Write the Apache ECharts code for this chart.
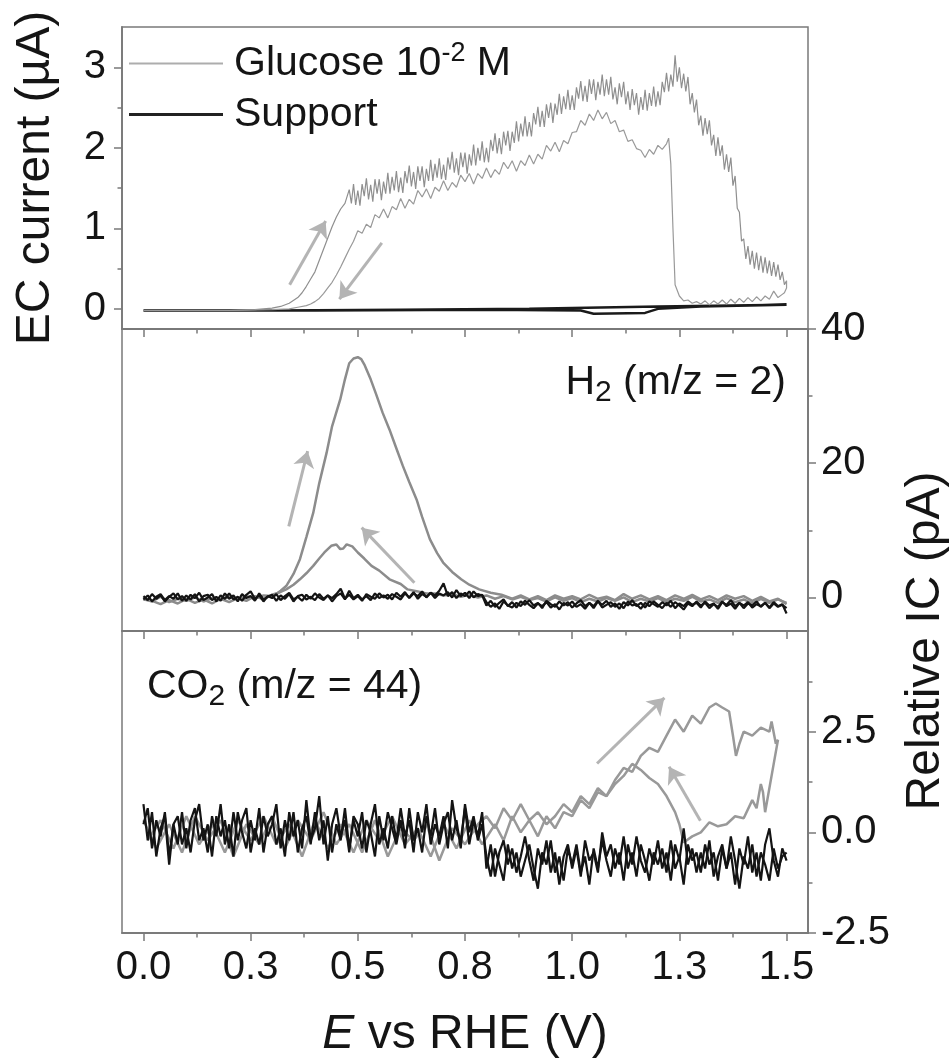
<!DOCTYPE html>
<html>
<head>
<meta charset="utf-8">
<script src="https://cdn.jsdelivr.net/npm/echarts/dist/echarts.min.js"></script>
<style>
html,body{margin:0;padding:0;background:#fff;}
#chart{width:952px;height:1063px;}
</style>
</head>
<body>
<div id="chart"></div>
<script>
// ---------------- DATA ----------------
const seriesNames = ['Glucose', 'Support'];
const xTickValues = [0, 0.25, 0.5, 0.75, 1.0, 1.25, 1.5];
const xTickLabels = ['0.0', '0.3', '0.5', '0.8', '1.0', '1.3', '1.5'];
const xMinorValues = [0.125, 0.375, 0.625, 0.875, 1.125, 1.375];
const ecTickValues = [0, 1, 2, 3];
const ecTickLabels = ['0', '1', '2', '3'];
const ecMinorValues = [0.5, 1.5, 2.5];
const h2TickValues = [0, 20, 40];
const h2TickLabels = ['0', '20', '40'];
const h2MinorValues = [10, 30];
const co2TickValues = [-2.5, 0, 2.5];
const co2TickLabels = ['-2.5', '0.0', '2.5'];
const co2MinorValues = [-1.25, 1.25, 3.75];

// sampled potentials (V) for the support traces
const E_fine = [0,0.01,0.02,0.03,0.04,0.05,0.06,0.07,0.08,0.09,0.1,0.11,0.12,0.13,0.14,0.15,0.16,0.17,0.18,0.19,0.2,0.21,0.22,0.23,0.24,0.25,0.26,0.27,0.28,0.29,0.3,0.31,0.32,0.33,0.34,0.35,0.36,0.37,0.38,0.39,0.4,0.41,0.42,0.43,0.44,0.45,0.46,0.47,0.48,0.49,0.5,0.51,0.52,0.53,0.54,0.55,0.56,0.57,0.58,0.59,0.6,0.61,0.62,0.63,0.64,0.65,0.66,0.67,0.68,0.69,0.7,0.71,0.72,0.73,0.74,0.75,0.76,0.77,0.78,0.79,0.8,0.81,0.82,0.83,0.84,0.85,0.86,0.87,0.88,0.89,0.9,0.91,0.92,0.93,0.94,0.95,0.96,0.97,0.98,0.99,1,1.01,1.02,1.03,1.04,1.05,1.06,1.07,1.08,1.09,1.1,1.11,1.12,1.13,1.14,1.15,1.16,1.17,1.18,1.19,1.2,1.21,1.22,1.23,1.24,1.25,1.26,1.27,1.28,1.29,1.3,1.31,1.32,1.33,1.34,1.35,1.36,1.37,1.38,1.39,1.4,1.41,1.42,1.43,1.44,1.45,1.46,1.47,1.48,1.49,1.5];

// EC current (µA) – glucose, anodic scan
const ecGlucoseFwd = [[0,-0.02],[0.1,-0.02],[0.2,-0.02],[0.26,-0.01],[0.3,0.01],[0.32,0.03],[0.34,0.07],[0.36,0.14],[0.37,0.2],[0.38,0.28],[0.39,0.37],[0.4,0.46],[0.41,0.6],[0.42,0.74],[0.43,0.88],[0.44,1.02],[0.45,1.14],[0.46,1.24],[0.47,1.31],
[0.48,1.48],[0.485,1.31],[0.49,1.55],[0.495,1.29],[0.5,1.47],[0.505,1.28],[0.51,1.55],[0.515,1.40],[0.52,1.62],[0.525,1.36],[0.53,1.54],[0.535,1.33],[0.54,1.61],[0.545,1.43],[0.55,1.61],[0.555,1.35],[0.56,1.58],[0.565,1.43],[0.57,1.69],[0.575,1.43],
[0.58,1.64],[0.585,1.47],[0.59,1.71],[0.595,1.45],[0.6,1.63],[0.605,1.44],[0.61,1.71],[0.615,1.56],[0.62,1.78],[0.625,1.52],[0.63,1.70],[0.635,1.49],[0.64,1.77],[0.645,1.59],[0.65,1.77],[0.655,1.51],[0.66,1.74],[0.665,1.59],[0.67,1.85],[0.675,1.59],
[0.68,1.80],[0.685,1.63],[0.69,1.87],[0.695,1.61],[0.7,1.79],[0.705,1.60],[0.71,1.88],[0.715,1.73],[0.72,1.95],[0.725,1.69],[0.73,1.87],[0.735,1.66],[0.74,1.94],[0.745,1.76],[0.75,1.94],[0.755,1.68],[0.76,1.92],[0.765,1.78],[0.77,2.04],[0.775,1.78],
[0.78,2.00],[0.785,1.84],[0.79,2.08],[0.795,1.82],[0.8,2.00],[0.805,1.82],[0.81,2.10],[0.815,1.96],[0.82,2.18],[0.825,1.93],[0.83,2.12],[0.835,1.92],[0.84,2.20],[0.845,2.03],[0.85,2.21],[0.855,1.96],[0.86,2.20],[0.865,2.06],[0.87,2.33],[0.875,2.08],
[0.88,2.30],[0.885,2.14],[0.89,2.39],[0.895,2.14],[0.9,2.32],[0.905,2.14],[0.91,2.43],[0.915,2.29],[0.92,2.51],[0.925,2.26],[0.93,2.46],[0.935,2.26],[0.94,2.54],[0.945,2.37],[0.95,2.56],[0.955,2.31],[0.96,2.55],[0.965,2.41],[0.97,2.67],[0.975,2.42],
[0.98,2.64],[0.985,2.48],[0.99,2.72],[0.995,2.47],[1.0,2.65],[1.005,2.47],[1.01,2.75],[1.015,2.61],[1.02,2.83],[1.025,2.58],[1.03,2.77],[1.035,2.57],[1.04,2.85],[1.045,2.67],[1.05,2.85],[1.055,2.59],[1.06,2.82],[1.065,2.66],[1.07,2.91],[1.075,2.64],
[1.08,2.85],[1.085,2.66],[1.09,2.88],[1.095,2.60],[1.1,2.75],[1.105,2.54],[1.11,2.80],[1.115,2.63],[1.12,2.82],[1.125,2.54],[1.13,2.70],[1.135,2.47],[1.14,2.73],[1.145,2.53],[1.15,2.68],[1.155,2.41],[1.16,2.63],[1.165,2.47],[1.17,2.72],[1.175,2.46],
[1.18,2.68],[1.185,2.52],[1.19,2.76],[1.195,2.51],[1.2,2.70],[1.205,2.53],[1.21,2.82],[1.215,2.69],[1.22,2.93],[1.225,2.70],[1.23,2.91],[1.235,2.76],[1.24,3.15],[1.245,2.82],[1.25,3.00],[1.255,2.74],[1.26,2.92],[1.265,2.70],[1.27,2.88],[1.275,2.54],
[1.28,2.68],[1.285,2.44],[1.29,2.60],[1.295,2.28],[1.3,2.40],[1.305,2.15],[1.31,2.37],[1.315,2.17],[1.32,2.34],[1.325,2.03],[1.33,2.16],[1.335,1.90],[1.34,2.13],[1.345,1.90],[1.35,2.03],[1.355,1.73],[1.36,1.92],[1.365,1.70],[1.37,1.88],[1.375,1.53],
[1.38,1.65],[1.385,1.25],[1.39,1.20],[1.395,0.84],[1.4,0.87],[1.405,0.62],[1.41,0.78],[1.415,0.55],[1.42,0.72],[1.425,0.50],[1.43,0.70],[1.435,0.48],[1.44,0.66],[1.445,0.45],[1.45,0.64],[1.455,0.44],[1.46,0.60],[1.465,0.41],[1.47,0.58],[1.475,0.40],
[1.48,0.55],[1.485,0.36],[1.49,0.46],[1.495,0.30],[1.5,0.35]];
// EC current (µA) – glucose, cathodic scan
const ecGlucoseBwd = [[1.5,0.35],[1.5,0.26],[1.495,0.2],[1.49,0.18],[1.48,0.14],[1.47,0.22],[1.46,0.12],[1.45,0.16],[1.44,0.10],[1.43,0.15],[1.42,0.09],[1.41,0.14],[1.4,0.08],[1.39,0.13],[1.38,0.07],[1.37,0.12],[1.36,0.06],[1.35,0.11],[1.34,0.06],[1.33,0.10],[1.32,0.05],[1.31,0.10],[1.3,0.06],[1.29,0.09],[1.28,0.07],[1.27,0.11],[1.26,0.10],[1.25,0.16],[1.24,0.30],[1.235,1.0],[1.23,1.8],[1.225,2.12],
[1.22,2.05],[1.21,1.98],[1.2,2.03],[1.19,1.92],[1.18,1.98],[1.17,1.88],[1.16,1.97],[1.15,1.99],[1.14,2.10],[1.13,2.08],[1.12,2.22],[1.11,2.20],[1.1,2.34],[1.09,2.30],[1.08,2.44],[1.07,2.36],[1.06,2.47],[1.05,2.34],[1.04,2.42],[1.03,2.28],[1.02,2.34],[1.01,2.20],
[1.0,2.19],[0.99,2.05],[0.98,2.09],[0.97,1.95],[0.96,2.07],[0.95,1.96],[0.94,2.03],[0.93,1.86],[0.92,1.92],[0.91,1.80],[0.9,1.91],[0.89,1.78],[0.88,1.84],[0.87,1.71],[0.86,1.84],[0.85,1.74],[0.84,1.82],[0.83,1.67],[0.82,1.73],[0.81,1.63],[0.8,1.75],[0.79,1.62],[0.78,1.68],[0.77,1.55],[0.76,1.68],[0.75,1.58],[0.74,1.66],[0.73,1.51],[0.72,1.57],[0.71,1.47],[0.7,1.59],[0.69,1.46],[0.68,1.51],[0.67,1.37],[0.66,1.49],[0.65,1.39],[0.64,1.47],[0.63,1.30],[0.62,1.36],[0.61,1.25],[0.6,1.37],[0.59,1.23],[0.58,1.27],[0.57,1.13],[0.56,1.24],[0.55,1.13],[0.54,1.17],[0.53,1.01],[0.52,1.05],[0.51,0.94],[0.5,0.97],
[0.49,0.84],[0.48,0.74],[0.47,0.63],[0.46,0.52],[0.45,0.42],[0.44,0.33],[0.43,0.26],[0.42,0.19],[0.41,0.13],[0.4,0.09],[0.39,0.06],[0.38,0.04],[0.36,0.02],[0.34,0.0],[0.3,-0.01],[0.2,-0.02],[0.1,-0.02],[0,-0.02]];
// EC current (µA) – support electrolyte
const ecSupport = [[0,-0.02],[0.3,-0.02],[0.6,-0.01],[0.9,0.0],[1.2,0.03],[1.5,0.05],[1.5,0.04],[1.3,0.03],[1.2,0.0],[1.17,-0.05],[1.05,-0.06],[1.02,-0.02],[0.8,-0.01],[0.4,-0.02],[0,-0.02]];

// H2 ion current (pA) – glucose
const h2GlucoseFwd = [[0,-0.2],[0.02,-0.6],[0.04,0.1],[0.06,-0.7],[0.08,-0.2],[0.1,-0.5],[0.12,0.0],[0.14,-0.6],[0.16,-0.1],[0.18,-0.4],[0.2,0.1],[0.22,-0.3],[0.24,0.2],[0.26,-0.2],[0.28,0.3],[0.3,0.2],[0.31,0.5],[0.32,1.0],[0.333,1.7],[0.35,3.5],[0.365,5.7],[0.38,9.0],[0.396,12.6],[0.41,17.0],[0.427,21.5],[0.44,25.5],[0.459,29.5],[0.47,32.5],[0.48,34.9],[0.49,35.6],[0.5,35.8],[0.508,35.5],[0.516,34.6],[0.53,32.5],[0.542,30.4],[0.558,27.5],[0.574,25.0],[0.59,22.2],[0.605,19.6],[0.62,17.2],[0.637,14.6],[0.65,12.0],[0.668,8.7],[0.685,6.6],[0.699,5.2],[0.72,3.8],[0.741,2.7],[0.76,1.9],[0.783,1.2],[0.81,0.7],[0.835,0.4],[0.86,-0.2],[0.88,0.3],[0.9,-0.3],[0.92,0.2],[0.94,-0.4],[0.96,0.3],[0.98,-0.2],[1.0,0.2],[1.02,-0.3],[1.04,0.4],[1.06,-0.2],[1.08,0.1],[1.1,-0.4],[1.12,0.5],[1.14,-0.2],[1.16,0.3],[1.18,-0.3],[1.2,0.2],[1.22,-0.4],[1.24,0.3],[1.26,-0.2],[1.28,0.4],[1.3,-0.3],[1.32,0.2],[1.34,-0.4],[1.36,0.3],[1.38,-0.2],[1.4,0.2],[1.42,-0.5],[1.44,0.1],[1.46,-0.6],[1.48,-0.2],[1.5,-1.0]];
const h2GlucoseBwd = [[1.5,-0.8],[1.48,-0.3],[1.46,-0.8],[1.44,-0.2],[1.42,-0.9],[1.4,-0.3],[1.38,-0.7],[1.36,-0.1],[1.34,-0.8],[1.32,-0.3],[1.3,-0.6],[1.28,0.1],[1.26,-0.5],[1.24,-0.2],[1.22,-0.7],[1.2,-0.1],[1.18,-0.6],[1.16,-0.2],[1.14,-0.7],[1.12,0.0],[1.1,-0.5],[1.08,-0.1],[1.06,-0.6],[1.04,-0.2],[1.02,-0.7],[1.0,-0.1],[0.98,-0.5],[0.96,0.0],[0.94,-0.6],[0.92,-0.1],[0.9,-0.4],[0.88,0.1],[0.86,-0.3],[0.84,0.2],[0.82,-0.2],[0.8,0.3],[0.78,0.0],[0.76,0.4],[0.74,0.1],[0.72,0.5],[0.7,0.3],[0.68,0.6],[0.66,0.6],[0.64,0.9],[0.616,1.2],[0.6,2.0],[0.574,2.7],[0.55,4.0],[0.532,4.7],[0.515,5.8],[0.5,6.7],[0.487,7.6],[0.474,7.9],[0.466,7.3],[0.459,7.2],[0.45,7.9],[0.438,7.7],[0.43,7.2],[0.422,6.7],[0.41,5.8],[0.396,4.7],[0.38,3.6],[0.365,2.7],[0.35,1.9],[0.333,1.2],[0.315,0.7],[0.3,0.4],[0.28,-0.3],[0.26,0.2],[0.24,-0.5],[0.22,-0.1],[0.2,-0.7],[0.18,-0.2],[0.16,-0.9],[0.14,-0.3],[0.12,-0.8],[0.1,-0.2],[0.08,-0.9],[0.06,-0.4],[0.04,-1.0],[0.02,-0.5],[0,-0.3]];
// H2 ion current (pA) – support, values at E_fine
const h2SupportFwd = [0.2,-0.4,0.5,-0.2,0.3,-0.6,0.1,0.6,-0.3,0.2,-0.5,0.4,-0.1,0.7,-0.4,0.0,0.5,-0.6,0.3,-0.2,0.6,-0.3,0.1,-0.5,0.4,0.9,-0.2,0.3,-0.6,0.2,-0.1,0.5,-0.4,0.2,0.7,-0.3,0.1,-0.5,0.4,-0.2,0.6,0.0,-0.4,0.3,-0.1,0.5,1.3,-0.2,0.4,-0.3,0.2,-0.5,0.5,0.1,-0.2,0.6,0.0,0.4,-0.3,0.7,0.1,0.8,-0.1,0.6,0.2,0.9,0.0,0.7,0.3,1.0,2.1,0.2,0.8,-0.1,0.6,0.2,0.9,0.0,0.5,0.3,-1.2,-0.5,-1.4,-0.8,-0.3,-1.3,-0.7,-1.5,-0.6,-1.1,-0.4,-1.2,-0.8,-1.6,-0.5,-1.0,-1.4,-0.6,-1.2,-0.7,-1.5,-0.9,-0.4,-1.3,-0.8,-1.6,-0.6,-1.1,-0.5,-1.4,-0.9,-1.7,-0.7,-1.2,-0.4,-1.3,-0.8,-1.5,-0.6,-1.0,-1.4,-0.7,-1.2,-0.5,-1.6,-0.9,-1.3,-0.6,-1.1,-0.8,-1.5,-0.6,-1.2,-0.9,-1.7,-0.7,-1.1,-0.4,-1.3,-0.8,-1.6,-0.9,-1.2,-0.6,-1.4,-0.8,-1.5,-0.7,-1.3,-1.0,-2.4];
const h2SupportBwd = [-0.3,0.3,-0.6,0.1,0.5,-0.4,0.2,-0.2,0.6,-0.5,0.3,-0.3,0.5,-0.6,0.2,0.4,-0.4,0.1,-0.5,0.6,-0.2,0.3,-0.6,0.5,-0.1,0.2,-0.5,0.6,-0.3,0.1,0.4,-0.5,0.3,-0.2,0.5,-0.6,0.2,0.4,-0.3,0.1,-0.4,0.5,-0.2,0.3,-0.6,0.2,0.6,-0.3,1.0,-0.1,0.4,-0.3,0.2,-0.4,0.6,-0.1,0.3,-0.2,0.5,0.1,-0.3,0.6,0.0,0.8,-0.2,0.5,0.1,0.7,-0.1,0.6,0.3,0.8,0.0,1.1,0.2,0.7,-0.1,0.9,0.2,0.4,-0.7,-1.4,-0.9,-1.7,-0.6,-1.2,-1.5,-0.8,-1.3,-0.5,-1.1,-1.6,-0.9,-1.3,-0.7,-1.5,-1.0,-1.8,-0.8,-1.2,-0.6,-1.4,-1.0,-1.7,-0.8,-1.3,-0.5,-1.5,-1.1,-0.7,-1.4,-0.9,-1.6,-0.6,-1.2,-1.0,-1.7,-0.8,-1.3,-0.6,-1.1,-1.6,-0.8,-1.4,-0.7,-1.2,-1.8,-0.9,-1.3,-0.6,-1.2,-0.8,-1.6,-1.0,-1.4,-0.6,-1.3,-0.9,-1.7,-0.8,-1.2,-0.7,-1.5,-1.0,-1.3,-0.8,-1.6,-0.9,-1.4,-1.1,-1.6];

// CO2 ion current (pA) – glucose
const co2GlucoseFwd = [[0,0.3],[0.03,-0.4],[0.06,0.2],[0.09,-0.5],[0.12,0.4],[0.15,-0.2],[0.18,0.3],[0.21,-0.6],[0.24,0.2],[0.27,-0.3],[0.3,0.4],[0.33,-0.4],[0.36,0.3],[0.39,-0.2],[0.42,0.5],[0.45,-0.3],[0.48,0.2],[0.51,-0.5],[0.54,0.3],[0.57,-0.6],[0.6,0.1],[0.63,-0.2],[0.66,0.2],[0.69,-0.7],[0.72,0.1],[0.75,-0.3],[0.78,0.2],[0.8,0.4],[0.82,0.1],[0.84,0.6],[0.86,0.3],[0.88,0.7],[0.9,0.3],[0.92,0.5],[0.94,0.2],[0.96,0.4],[0.98,0.7],[1.0,0.5],[1.02,0.9],[1.04,0.7],[1.06,1.1],[1.08,0.9],[1.1,1.3],[1.12,1.6],[1.14,1.5],[1.16,1.9],[1.18,2.1],[1.2,2.0],[1.22,2.4],[1.24,2.8],[1.26,2.5],[1.28,2.9],[1.3,2.7],[1.32,3.1],[1.335,3.2],[1.35,3.1],[1.366,3.0],[1.375,2.4],[1.382,1.9],[1.39,2.2],[1.4,2.5],[1.42,2.4],[1.44,2.6],[1.46,2.5],[1.465,2.75],[1.475,2.2],[1.48,2.3]];
const co2GlucoseBwd = [[1.48,2.3],[1.47,1.7],[1.46,1.1],[1.45,0.5],[1.445,1.0],[1.44,1.2],[1.43,0.6],[1.42,0.8],[1.4,0.35],[1.38,0.4],[1.36,0.2],[1.34,0.15],[1.32,0.25],[1.3,0.0],[1.28,-0.1],[1.26,-0.25],[1.25,0.2],[1.24,0.5],[1.22,0.9],[1.2,1.2],[1.18,1.35],[1.16,1.55],[1.14,1.7],[1.12,1.4],[1.1,1.2],[1.08,0.9],[1.06,1.0],[1.04,0.6],[1.02,0.8],[1.0,0.4],[0.98,0.5],[0.96,0.1],[0.94,0.4],[0.92,-0.1],[0.9,0.3],[0.88,0.0],[0.86,0.4],[0.84,-0.2],[0.82,0.2],[0.79,-0.3],[0.76,0.3],[0.73,-0.4],[0.7,0.2],[0.67,-0.6],[0.64,0.1],[0.61,-0.3],[0.58,0.4],[0.55,-0.2],[0.52,0.3],[0.49,-0.5],[0.46,0.2],[0.43,-0.4],[0.4,0.3],[0.37,-0.6],[0.34,0.2],[0.31,-0.3],[0.28,0.4],[0.25,-0.2],[0.22,0.3],[0.19,-0.5],[0.16,0.2],[0.13,-0.3],[0.1,0.4],[0.07,-0.4],[0.04,0.3],[0.01,-0.2]];
// CO2 ion current (pA) – support, values at E_fine
const co2SupportFwd = [0.7,-0.2,0.5,-0.6,0.1,0.4,-0.8,0.2,-0.3,0.5,-0.4,0.3,0.6,-0.2,0.1,-0.5,0.4,-0.1,0.7,-0.3,0.2,-0.6,0.5,0.0,-0.4,0.3,-0.2,0.6,-0.5,0.2,0.4,-0.3,0.1,-0.6,0.5,-0.1,0.3,-0.4,0.8,-0.2,0.1,0.9,-0.3,0.4,-0.5,0.2,-0.2,0.6,-0.4,0.3,-0.1,0.5,-0.5,0.2,0.7,-0.3,0.1,-0.4,0.4,-0.2,0.6,-0.1,0.3,-0.5,0.5,0.0,0.7,-0.3,0.2,-0.1,0.4,-0.4,0.8,0.1,-0.2,0.6,-0.3,0.3,-0.1,0.5,-0.9,-0.3,-1.1,-0.5,-0.2,-0.8,-0.4,-1.0,-0.6,-0.1,-0.7,-1.2,-0.4,-0.8,-0.2,-1.0,-0.5,-1.3,-0.6,-0.3,-0.9,-0.4,-1.1,-0.2,-0.7,-0.5,-1.0,0.0,-0.6,-0.3,-0.9,-0.5,-1.2,-0.3,-0.8,-0.1,-0.7,-1.0,-0.4,-0.8,-0.2,-0.9,-0.5,-1.2,-0.3,-0.7,0.1,-0.8,-0.4,-1.0,-0.5,-0.9,-0.2,-1.1,-0.6,-0.3,-0.9,-0.5,-1.3,-0.4,-0.8,-0.1,-1.0,-0.5,-1.2,-0.3,0.1,-0.7,-1.1,-0.4,-0.7];
const co2SupportBwd = [0.2,0.6,-0.4,0.3,-0.1,0.5,-0.6,0.2,0.4,-0.3,0.1,-0.5,0.3,0.7,-0.2,0.2,-0.6,0.4,-0.1,0.3,-0.4,0.5,-0.2,0.3,0.6,-0.5,0.1,-0.3,0.4,-0.1,0.2,0.7,-0.4,0.3,-0.2,0.5,-0.5,0.1,0.4,-0.3,0.5,-0.2,0.3,-0.7,0.2,0.6,-0.1,0.3,-0.5,0.4,0.2,-0.4,0.3,0.0,-0.6,0.4,-0.2,0.5,0.1,-0.3,0.3,-0.4,0.6,-0.2,0.1,-0.5,0.4,-0.1,0.6,-0.3,0.2,0.5,-0.2,0.3,-0.4,0.7,0.0,0.4,-0.2,0.2,-0.6,-1.1,-0.4,-0.8,-1.2,-0.3,-0.9,-0.5,-1.1,-0.7,-0.3,-0.9,-1.4,-0.5,-0.8,-0.2,-1.0,-0.6,-1.2,-0.4,-0.8,-0.3,-1.0,-0.6,-1.3,-0.4,-0.9,-0.2,-0.7,-1.1,-0.4,-0.8,-0.1,-0.9,-0.5,-1.1,-0.3,-0.7,-1.2,-0.5,-0.8,-0.4,-1.0,-0.2,-0.9,-0.6,-1.3,-0.3,-0.7,-0.5,-1.0,-0.3,-0.8,-0.5,-1.2,-0.4,-0.9,-0.1,-0.7,-1.4,-0.6,-0.9,-0.3,-1.1,-0.5,-0.8,-1.2,-0.4,-0.9,-0.6,-0.5];

// scan-direction arrows [E1, y1, E2, y2]
const arrowsEC = [[0.341, 0.30, 0.425, 1.09], [0.556, 0.82, 0.457, 0.12]];
const arrowsH2 = [[0.339, 10.6, 0.383, 21.8], [0.632, 2.2, 0.509, 10.4]];
const arrowsCO2 = [[1.058, 1.71, 1.215, 3.34], [1.299, 0.29, 1.226, 1.63]];

// ---------------- CHART ----------------
const FONT = "'Liberation Sans', Arial, Helvetica, sans-serif";
const AX = '#7a7a7a';
const TXT = '#151515';
const GRIDS = [
  {left: 122, top: 27, width: 686, height: 302},
  {left: 122, top: 329, width: 686, height: 302},
  {left: 122, top: 631, width: 686, height: 302}
];
const pair = (xs, ys) => xs.map((x, i) => [x, ys[i]]);
const fmt = (vals, labels) => v => { const i = vals.findIndex(t => Math.abs(t - v) < 1e-9); return i >= 0 ? labels[i] : ''; };

function xAx(grid, minor, labels) {
  return {
    type: 'value', gridIndex: grid, min: -0.05, max: 1.55, position: 'bottom',
    axisLine: {show: true, onZero: false, lineStyle: {color: AX, width: 1.5}},
    splitLine: {show: false},
    axisTick: {show: true, inside: false, length: minor ? 4.5 : 8, customValues: minor ? xMinorValues : xTickValues, lineStyle: {color: AX, width: 1.5}},
    axisLabel: {show: !!labels, customValues: xTickValues, formatter: fmt(xTickValues, xTickLabels), margin: 15, fontSize: 40, fontFamily: FONT, color: TXT},
    name: labels ? 'E{n| vs RHE (V)}' : '', nameLocation: 'middle', nameGap: 78,
    nameTextStyle: {fontSize: 48, fontFamily: FONT, fontStyle: 'italic', color: TXT, rich: {n: {fontSize: 48, fontFamily: FONT, fontStyle: 'normal', color: TXT}}}
  };
}
function yAx(grid, pos, min, max, vals, labs, minorVals, minor) {
  return {
    type: 'value', gridIndex: grid, min: min, max: max, position: pos,
    axisLine: {show: true, onZero: false, lineStyle: {color: AX, width: 1.5}},
    splitLine: {show: false},
    axisTick: {show: true, inside: false, length: minor ? 4.5 : 8, customValues: minor ? minorVals : vals, lineStyle: {color: AX, width: 1.5}},
    axisLabel: {show: !minor, customValues: vals, formatter: fmt(vals, labs), margin: pos === 'left' ? 16 : 13, fontSize: 40, fontFamily: FONT, color: TXT}
  };
}
function arrowMark(list) {
  return {
    silent: true, animation: false, symbol: ['none', 'arrow'], symbolSize: 16,
    label: {show: false},
    lineStyle: {color: '#b4b4b4', width: 3, type: 'solid'},
    emphasis: {disabled: true},
    data: list.map(a => [{coord: [a[0], a[1]]}, {coord: [a[2], a[3]]}])
  };
}
function line(name, xi, yi, data, color, width, z, mark) {
  const s = {name: name, type: 'line', xAxisIndex: xi, yAxisIndex: yi, data: data, showSymbol: false, symbol: 'none',
    lineStyle: {color: color, width: width}, itemStyle: {color: color}, z: z, animation: false, silent: true, clip: true};
  if (mark) s.markLine = mark;
  return s;
}

const chart = echarts.init(document.getElementById('chart'), null, {renderer: 'canvas'});
const yEC = yAx(0, 'left', -0.25, 3.5, ecTickValues, ecTickLabels, ecMinorValues, false);
yEC.name = 'EC current (µA)';
yEC.nameLocation = 'middle';
yEC.nameGap = 62;
yEC.nameRotate = 90;
yEC.nameTextStyle = {fontSize: 48, fontFamily: FONT, color: TXT};

chart.setOption({
  backgroundColor: '#ffffff',
  animation: false,
  grid: GRIDS.map(g => Object.assign({show: true, borderColor: AX, borderWidth: 1.5, backgroundColor: 'transparent'}, g)),
  xAxis: [xAx(0, false, false), xAx(0, true, false), xAx(1, false, false), xAx(1, true, false), xAx(2, false, true), xAx(2, true, false)],
  yAxis: [
    yEC,
    yAx(0, 'left', -0.25, 3.5, ecTickValues, ecTickLabels, ecMinorValues, true),
    yAx(1, 'right', -5, 40, h2TickValues, h2TickLabels, h2MinorValues, false),
    yAx(1, 'right', -5, 40, h2TickValues, h2TickLabels, h2MinorValues, true),
    yAx(2, 'right', -2.5, 5, co2TickValues, co2TickLabels, co2MinorValues, false),
    yAx(2, 'right', -2.5, 5, co2TickValues, co2TickLabels, co2MinorValues, true)
  ],
  legend: [
    {data: [{name: seriesNames[0], icon: 'rect', itemStyle: {color: '#adadad'}}], left: 129, top: 40, padding: 0,
     itemWidth: 94, itemHeight: 2, selectedMode: false,
     formatter: () => 'Glucose 10{sup|-2} M',
     textStyle: {fontSize: 41, fontFamily: FONT, color: TXT, padding: [0, 0, 0, 6], rich: {sup: {fontSize: 27, fontFamily: FONT, color: TXT, padding: [0, 0, 20, 0]}}}},
    {data: [{name: seriesNames[1], icon: 'rect', itemStyle: {color: '#222222'}}], left: 129, top: 94, padding: 0,
     itemWidth: 94, itemHeight: 3, selectedMode: false,
     textStyle: {fontSize: 41, fontFamily: FONT, color: TXT, padding: [0, 0, 0, 6]}}
  ],
  title: [
    {text: 'H{sub|2} (m/z = 2)', right: 166, top: 358, padding: 0,
     textStyle: {fontSize: 41, fontFamily: FONT, fontWeight: 'normal', color: TXT, rich: {sub: {fontSize: 30, fontFamily: FONT, color: TXT, padding: [20, 0, 0, 0]}}}},
    {text: 'CO{sub|2} (m/z = 44)', left: 147, top: 662, padding: 0,
     textStyle: {fontSize: 41, fontFamily: FONT, fontWeight: 'normal', color: TXT, rich: {sub: {fontSize: 30, fontFamily: FONT, color: TXT, padding: [20, 0, 0, 0]}}}}
  ],
  graphic: [
    {type: 'text', x: 926, y: 641, rotation: Math.PI / 2, silent: true,
     style: {text: 'Relative IC (pA)', fontSize: 48, fontFamily: FONT, fill: TXT, align: 'center', verticalAlign: 'middle'}}
  ],
  series: [
    line(seriesNames[1], 0, 0, ecSupport, '#1a1a1a', 2.5, 3),
    line(seriesNames[0], 0, 0, ecGlucoseFwd, '#8f8f8f', 1.2, 4, arrowMark(arrowsEC)),
    line(seriesNames[0], 0, 0, ecGlucoseBwd, '#999999', 1.2, 4),
    line(seriesNames[0], 2, 2, h2GlucoseFwd, '#8c8c8c', 2.5, 3, arrowMark(arrowsH2)),
    line(seriesNames[0], 2, 2, h2GlucoseBwd, '#8c8c8c', 2.5, 3),
    line(seriesNames[1], 2, 2, pair(E_fine, h2SupportFwd), '#141414', 2.2, 4),
    line(seriesNames[1], 2, 2, pair(E_fine, h2SupportBwd), '#141414', 2.2, 4),
    line(seriesNames[0], 4, 4, co2GlucoseFwd, '#999999', 2.5, 3, arrowMark(arrowsCO2)),
    line(seriesNames[0], 4, 4, co2GlucoseBwd, '#999999', 2.5, 3),
    line(seriesNames[1], 4, 4, pair(E_fine, co2SupportFwd), '#141414', 2.2, 4),
    line(seriesNames[1], 4, 4, pair(E_fine, co2SupportBwd), '#141414', 2.2, 4)
  ]
});
</script>
</body>
</html>
